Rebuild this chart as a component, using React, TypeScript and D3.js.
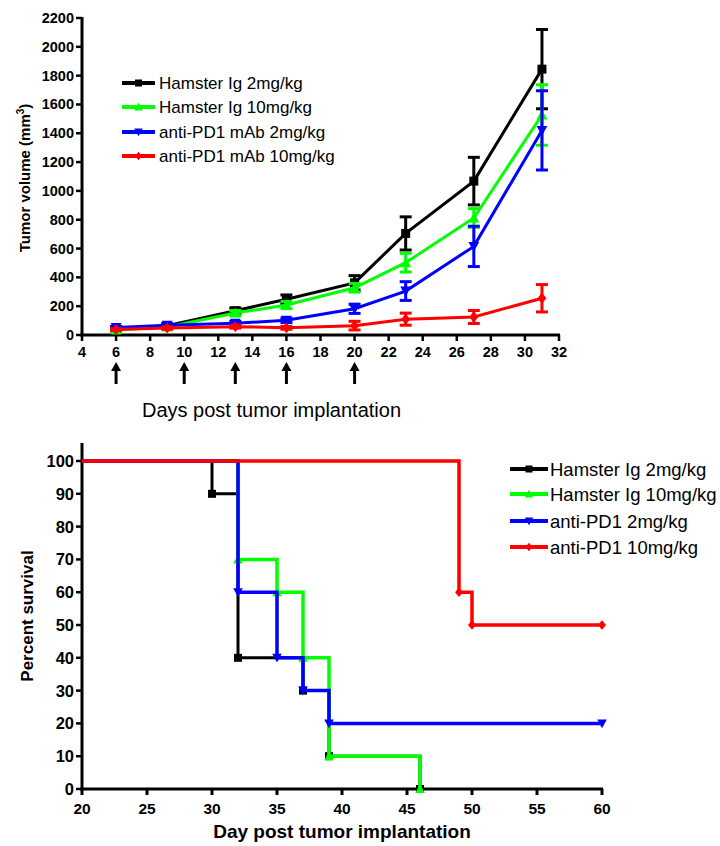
import React from "react";
import * as d3 from "d3";

// Tumor growth (mean ± SEM)
const growthDays = [6, 9, 13, 16, 20, 23, 27, 31];
const seriesNamesTop = [
  "Hamster Ig 2mg/kg",
  "Hamster Ig 10mg/kg",
  "anti-PD1 mAb 2mg/kg",
  "anti-PD1 mAb 10mg/kg",
];
const hamster2Mean = [40, 65, 168, 248, 362, 705, 1068, 1845];
const hamster2Err = [10, 12, 20, 30, 50, 115, 165, 275];
const hamster10Mean = [35, 55, 152, 208, 328, 502, 812, 1527];
const hamster10Err = [8, 10, 18, 25, 30, 65, 65, 210];
const pd1Low2Mean = [52, 68, 82, 102, 182, 305, 615, 1420];
const pd1Low2Err = [8, 10, 12, 15, 32, 65, 140, 275];
const pd1High10Mean = [38, 48, 58, 50, 65, 110, 125, 255];
const pd1High10Err = [6, 8, 10, 10, 30, 42, 45, 95];
const dosingDays = [6, 10, 13, 16, 20];
const topXTicks = d3.range(4, 33, 2);
const topYTicks = d3.range(0, 2201, 200);

// Kaplan–Meier survival
const seriesNamesBottom = [
  "Hamster Ig 2mg/kg",
  "Hamster Ig 10mg/kg",
  "anti-PD1 2mg/kg",
  "anti-PD1 10mg/kg",
];
const survHamster2Days = [20, 30, 32, 37, 39, 46];
const survHamster2Pct = [100, 90, 40, 30, 10, 0];
const survHamster10Days = [20, 32, 35, 37, 39, 46];
const survHamster10Pct = [100, 70, 60, 40, 10, 0];
const survPd1Low2Days = [20, 32, 35, 37, 39, 60];
const survPd1Low2Pct = [100, 60, 40, 30, 20, 20];
const survPd1High10Days = [20, 49, 50, 60];
const survPd1High10Pct = [100, 60, 50, 50];
const bottomXTicks = d3.range(20, 61, 5);
const bottomYTicks = d3.range(0, 101, 10);

const colors = ["#000000", "#00ff00", "#0000ff", "#ff0000"];
const shapes = ["square", "up", "down", "diamond"];
const FONT = "Arial, 'Liberation Sans', sans-serif";

function Marker({ shape, x, y, color, s = 4.5 }: { shape: string; x: number; y: number; color: string; s?: number }) {
  if (shape === "square")
    return <rect x={x - s} y={y - s} width={2 * s} height={2 * s} fill={color} />;
  if (shape === "up")
    return <path d={`M${x},${y - s * 1.2}L${x + s * 1.2},${y + s}L${x - s * 1.2},${y + s}Z`} fill={color} />;
  if (shape === "down")
    return <path d={`M${x},${y + s * 1.2}L${x + s * 1.2},${y - s}L${x - s * 1.2},${y - s}Z`} fill={color} />;
  return <path d={`M${x},${y - s * 1.2}L${x + s},${y}L${x},${y + s * 1.2}L${x - s},${y}Z`} fill={color} />;
}

export default function App() {
  // ---------- top panel scales ----------
  const xTop = d3.scaleLinear().domain([4, 32]).range([82, 559]);
  const yTop = d3.scaleLinear().domain([0, 2200]).range([335, 18]);
  const topMeans = [hamster2Mean, hamster10Mean, pd1Low2Mean, pd1High10Mean];
  const topErrs = [hamster2Err, hamster10Err, pd1Low2Err, pd1High10Err];
  const lineTop = d3
    .line<number>()
    .x((_, i) => xTop(growthDays[i]))
    .y((v) => yTop(v));

  // ---------- bottom panel scales ----------
  const xBot = d3.scaleLinear().domain([20, 60]).range([82, 602]);
  const yBot = d3.scaleLinear().domain([0, 100]).range([789, 461]);
  const survDays = [survHamster2Days, survHamster10Days, survPd1Low2Days, survPd1High10Days];
  const survPct = [survHamster2Pct, survHamster10Pct, survPd1Low2Pct, survPd1High10Pct];
  const stepLine = d3
    .line<[number, number]>()
    .x((d) => xBot(d[0]))
    .y((d) => yBot(d[1]))
    .curve(d3.curveStepAfter);

  const legendTopY = [83, 107, 132, 156];
  const legendBotY = [469, 494, 521, 547];

  return (
    <svg
      width={720}
      height={846}
      style={{ position: "absolute", left: 0, top: 0, display: "block", fontFamily: FONT }}
    >
      {/* ===== Tumor volume panel ===== */}
      <g>
        {/* axes */}
        <line x1={82} x2={82} y1={yTop(2200) - 1} y2={336.5} stroke="#000" strokeWidth={3} />
        <line x1={80.5} x2={xTop(32) + 1} y1={335} y2={335} stroke="#000" strokeWidth={3} />
        {topYTicks.map((t) => (
          <g key={"ty" + t}>
            <line x1={76} x2={82} y1={yTop(t)} y2={yTop(t)} stroke="#000" strokeWidth={2.5} />
            <text x={74} y={yTop(t) + 5} textAnchor="end" fontSize={14.5} fontWeight="bold">
              {t}
            </text>
          </g>
        ))}
        {topXTicks.map((t) => (
          <g key={"tx" + t}>
            <line x1={xTop(t)} x2={xTop(t)} y1={335} y2={341} stroke="#000" strokeWidth={2.5} />
            <text x={xTop(t)} y={357} textAnchor="middle" fontSize={14.5} fontWeight="bold">
              {t}
            </text>
          </g>
        ))}
        <text
          transform={`translate(30,178) rotate(-90)`}
          textAnchor="middle"
          fontSize={15}
          fontWeight="bold"
        >
          Tumor volume (mm
          <tspan dy={-6} fontSize={10}>3</tspan>
          <tspan dy={6}>)</tspan>
        </text>

        {/* dosing arrows */}
        {dosingDays.map((d) => (
          <g key={"arr" + d}>
            <line x1={xTop(d)} x2={xTop(d)} y1={369} y2={384} stroke="#000" strokeWidth={3} />
            <path
              d={`M${xTop(d)},${362}L${xTop(d) + 5},${371}L${xTop(d) - 5},${371}Z`}
              fill="#000"
            />
          </g>
        ))}
        <text x={142} y={417} fontSize={20}>
          Days post tumor implantation
        </text>

        {/* series */}
        {topMeans.map((means, si) => (
          <g key={"ts" + si}>
            <path d={lineTop(means) || ""} fill="none" stroke={colors[si]} strokeWidth={3} />
            {means.map((m, i) => {
              const x = xTop(growthDays[i]);
              const e = topErrs[si][i];
              return (
                <g key={i}>
                  <line x1={x} x2={x} y1={yTop(m + e)} y2={yTop(m - e)} stroke={colors[si]} strokeWidth={3} />
                  <line x1={x - 6} x2={x + 6} y1={yTop(m + e)} y2={yTop(m + e)} stroke={colors[si]} strokeWidth={3} />
                  <line x1={x - 6} x2={x + 6} y1={yTop(m - e)} y2={yTop(m - e)} stroke={colors[si]} strokeWidth={3} />
                  <Marker shape={shapes[si]} x={x} y={yTop(m)} color={colors[si]} />
                </g>
              );
            })}
          </g>
        ))}

        {/* legend */}
        {seriesNamesTop.map((name, i) => (
          <g key={"tl" + i}>
            <line x1={122} x2={155} y1={legendTopY[i]} y2={legendTopY[i]} stroke={colors[i]} strokeWidth={4} />
            <Marker shape={shapes[i]} x={138.5} y={legendTopY[i]} color={colors[i]} s={3.5} />
            <text x={159} y={legendTopY[i] + 6} fontSize={17}>
              {name}
            </text>
          </g>
        ))}
      </g>

      {/* ===== Survival panel ===== */}
      <g>
        <line x1={82} x2={82} y1={443} y2={790.5} stroke="#000" strokeWidth={3} />
        <line x1={80.5} x2={xBot(60) + 1} y1={789} y2={789} stroke="#000" strokeWidth={3} />
        {bottomYTicks.map((t) => (
          <g key={"by" + t}>
            <line x1={76} x2={82} y1={yBot(t)} y2={yBot(t)} stroke="#000" strokeWidth={2.5} />
            <text x={74} y={yBot(t) + 6} textAnchor="end" fontSize={16.5} fontWeight="bold">
              {t}
            </text>
          </g>
        ))}
        {bottomXTicks.map((t) => (
          <g key={"bx" + t}>
            <line x1={xBot(t)} x2={xBot(t)} y1={789} y2={795} stroke="#000" strokeWidth={3} />
            <text x={xBot(t)} y={814} textAnchor="middle" fontSize={15.5} fontWeight="bold">
              {t}
            </text>
          </g>
        ))}
        <text
          transform={`translate(33,616) rotate(-90)`}
          textAnchor="middle"
          fontSize={17}
          fontWeight="bold"
        >
          Percent survival
        </text>
        <text x={342} y={838} textAnchor="middle" fontSize={19} fontWeight="bold">
          Day post tumor implantation
        </text>

        {survDays.map((days, si) => {
          const pts = days.map((d, i) => [d, survPct[si][i]] as [number, number]);
          return (
            <g key={"bs" + si}>
              <path
                d={stepLine(pts) || ""}
                fill="none"
                stroke={colors[si]}
                strokeWidth={si === 0 ? 3 : 3.5}
              />
              {pts.slice(1).map((p, i) => (
                <Marker key={i} shape={shapes[si]} x={xBot(p[0])} y={yBot(p[1])} color={colors[si]} s={4} />
              ))}
            </g>
          );
        })}

        {seriesNamesBottom.map((name, i) => (
          <g key={"bl" + i}>
            <line x1={510} x2={548} y1={legendBotY[i]} y2={legendBotY[i]} stroke={colors[i]} strokeWidth={4} />
            <Marker shape={shapes[i]} x={529} y={legendBotY[i]} color={colors[i]} s={3.5} />
            <text x={550} y={legendBotY[i] + 6.5} fontSize={18.5}>
              {name}
            </text>
          </g>
        ))}
      </g>
    </svg>
  );
}
